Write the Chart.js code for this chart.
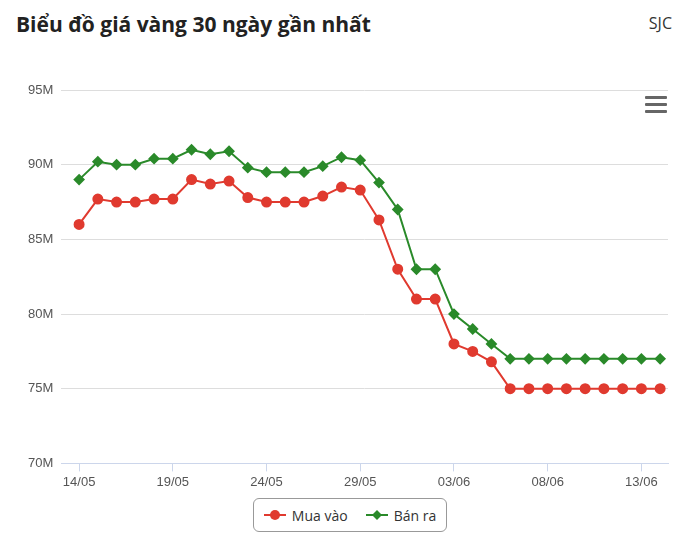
<!DOCTYPE html>
<html><head><meta charset="utf-8">
<script src="https://cdn.jsdelivr.net/npm/chart.js@4"></script>
<style>
body{margin:0;background:#fff;font-family:"Open Sans",Arial,sans-serif;}
#t{position:absolute;left:16px;top:10px;font-size:21px;font-weight:bold;color:#222;}
#s{position:absolute;right:28px;top:12px;font-size:16px;color:#333;}
#m{position:absolute;left:645px;top:96px;width:22px;}
#m div{height:3px;background:#666;margin-bottom:4px;border-radius:1px;}
#w{position:absolute;left:0;top:60px;width:700px;height:433px;}
#lg{position:absolute;left:253px;top:498px;width:192px;height:32px;border:1px solid #999;border-radius:6px;font-size:14px;color:#333;display:flex;align-items:center;justify-content:center;gap:18px;}
.it{display:flex;align-items:center;gap:6px}
</style></head><body>
<div id="t">Biểu đồ giá vàng 30 ngày gần nhất</div>
<div id="s">SJC</div>
<div id="m"><div></div><div></div><div></div></div>
<div id="w"><canvas id="c"></canvas></div>
<div id="lg">
<div class="it"><svg width="22" height="12"><line x1="0" y1="6" x2="22" y2="6" stroke="#e03a2f" stroke-width="2"/><circle cx="11" cy="6" r="5" fill="#e03a2f"/></svg>Mua vào</div>
<div class="it"><svg width="22" height="12"><line x1="0" y1="6" x2="22" y2="6" stroke="#2a8a2a" stroke-width="2"/><path d="M11 1L16 6L11 11L6 6Z" fill="#2a8a2a"/></svg>Bán ra</div>
</div>
<script>
const dates=["14/05","15/05","16/05","17/05","18/05","19/05","20/05","21/05","22/05","23/05","24/05","25/05","26/05","27/05","28/05","29/05","30/05","31/05","01/06","02/06","03/06","04/06","05/06","06/06","07/06","08/06","09/06","10/06","11/06","12/06","13/06","14/06"];
const buy=[86,87.7,87.5,87.5,87.7,87.7,89,88.7,88.9,87.8,87.5,87.5,87.5,87.9,88.5,88.3,86.3,83,81,81,78,77.5,76.8,75,75,75,75,75,75,75,75,75];
const sell=[89,90.2,90,90,90.4,90.4,91,90.7,90.9,89.8,89.5,89.5,89.5,89.9,90.5,90.3,88.8,87,83,83,80,79,78,77,77,77,77,77,77,77,77,77];
const yTicks=[70,75,80,85,90,95];
const pts=a=>a.map((v,i)=>({x:i,y:v}));
new Chart(document.getElementById('c'),{type:'line',
data:{datasets:[
{label:'Mua vào',data:pts(buy),borderColor:'#e03a2f',backgroundColor:'#e03a2f',borderWidth:2,pointRadius:4.5,pointStyle:'circle',tension:0},
{label:'Bán ra',data:pts(sell),borderColor:'#2a8a2a',backgroundColor:'#2a8a2a',borderWidth:2,pointRadius:4.5,pointStyle:'rectRot',tension:0}]},
options:{responsive:true,maintainAspectRatio:false,animation:false,
layout:{padding:{left:20,right:32,top:30,bottom:0}},
plugins:{legend:{display:false},tooltip:{enabled:false}},
scales:{
x:{type:'linear',min:-0.95,max:31.42,
afterBuildTicks:s=>{s.ticks=[0,5,10,15,20,25,30].map(v=>({value:v}));},
ticks:{callback:v=>dates[v],color:'#555',font:{size:13},maxRotation:0,autoSkip:false},
grid:{display:true,drawOnChartArea:false,drawTicks:true,tickLength:8,color:'#ccd6eb'},
border:{color:'#ccd6eb'}},
y:{min:70,max:95,afterBuildTicks:s=>{s.ticks=yTicks.map(v=>({value:v}));},
ticks:{callback:v=>v+'M',color:'#555',font:{size:13},padding:8},
grid:{color:'#dddddd',drawTicks:false},border:{display:false}}}}});
</script></body></html>
